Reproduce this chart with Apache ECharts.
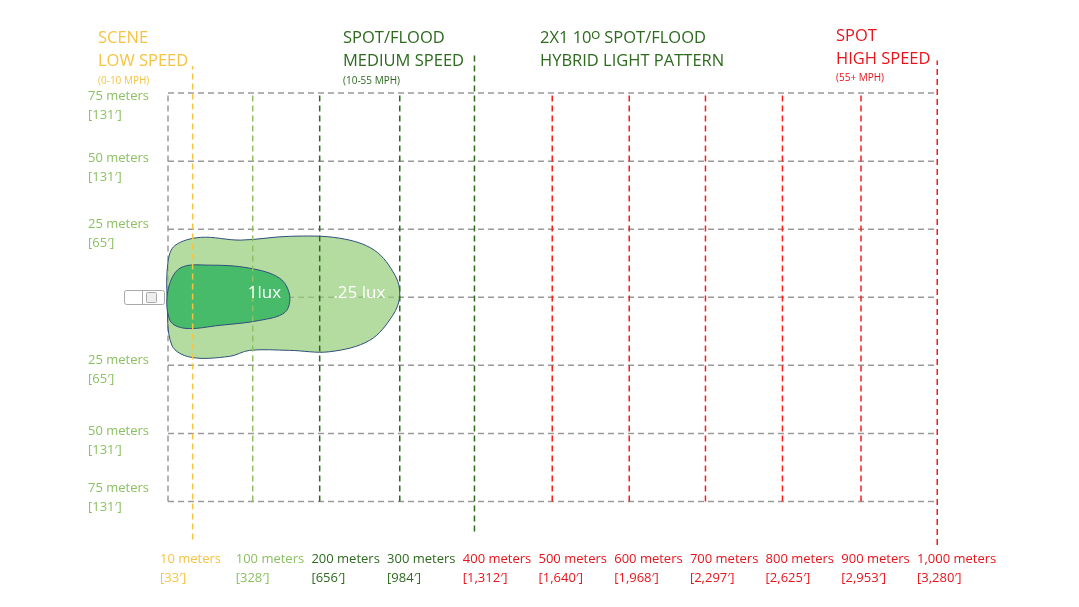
<!DOCTYPE html>
<html><head><meta charset="utf-8">
<script src="https://cdn.jsdelivr.net/npm/echarts@6/dist/echarts.min.js"></script>
<style>html,body{margin:0;padding:0;background:#fff}#c{width:1079px;height:607px}</style>
</head><body><div id="c"></div>
<script>
// distances (chart units along x, as drawn) and labels
const distPos = [32, 110, 197, 301, 398, 499, 599, 698, 798, 900, 999];
const distLabels = ['10 meters','100 meters','200 meters','300 meters','400 meters','500 meters','600 meters','700 meters','800 meters','900 meters','1,000 meters'];
const distFeet = ["[33′]","[328′]","[656′]","[984′]","[1,312′]","[1,640′]","[1,968′]","[2,297′]","[2,625′]","[2,953′]","[3,280′]"];
const distColor = ['#f6c443','#8cc063','#2d6a1e','#2d6a1e','#e8141c','#e8141c','#e8141c','#e8141c','#e8141c','#e8141c','#e8141c'];
const lineColor = ['#f6c443','#8cc063','#2d6a1e','#2d6a1e','#2d6a1e','#ff1a1a','#ff1a1a','#ff1a1a','#ff1a1a','#ff1a1a','#ff1a1a'];
// vertical extent of each line [bottom, top] in y units
const lineExt = [[-89,85],[-75,75],[-75,75],[-75,75],[-86,89],[-75,75],[-75,75],[-75,75],[-75,75],[-75,75],[-91,87]];
// lateral grid
const widthPos = [75, 50, 25, 0, -25, -50, -75];
const widthLabelPos = [73, 50, 26, -24, -50, -71];
const widthLabels = ['75 meters','50 meters','25 meters','25 meters','50 meters','75 meters'];
const widthFeet = ["[131′]","[131′]","[65′]","[65′]","[131′]","[131′]"];
// beam patterns
const quarterLux = [[9,19],[42,22],[94,21],[158,22.4],[223,21.7],[268,17.3],[295,8],[301,0.7],[292,-6.6],[262,-15.8],[210,-20],[158,-19.5],[106,-19.5],[80,-21.7],[29,-22],[5,-17.6],[-1,-1],[0,13]];
const oneLux = [[15.6,10.7],[54.5,11.8],[106,10.7],[145,7],[158,0.7],[152,-5.5],[119,-8.5],[67.5,-10.3],[22,-11.4],[2.6,-8.5],[0,2.6]];

const series = [];
const gray = {color:'#9a9a9a', type:[6,4], width:1.5};
widthPos.forEach(y => series.push({type:'line', data:[[0,y],[1000,y]], symbol:'none', lineStyle:gray, silent:true, z:1}));
series.push({type:'line', data:[[0,-75],[0,75]], symbol:'none', lineStyle:gray, silent:true, z:1});
function poly(pts, fill, z){
  return {type:'custom', z:z, silent:true, data:[0],
    renderItem:(p,api)=>({type:'polygon', shape:{points:pts.map(q=>api.coord(q)), smooth:0.35},
      style:{fill:fill, stroke:'#2e4f7a', lineWidth:1}})};
}
series.push(poly(quarterLux,'rgba(150,205,120,0.7)',2));
series.push(poly(oneLux,'#47bb6a',3));
distPos.forEach((x,i)=>series.push({type:'line', data:[[x,lineExt[i][0]],[x,lineExt[i][1]]], symbol:'none', z:4, silent:true,
  lineStyle:{color:lineColor[i], type:[6,4], width:1.5}}));

const chart = echarts.init(document.getElementById('c'));
chart.setOption({
  animation:false,
  grid:{left:168, right:141, top:55, bottom:62},
  xAxis:{type:'value', min:0, max:1000, show:false},
  yAxis:{type:'value', min:-91, max:89, show:false},
  series
});
const F = '"Open Sans", sans-serif';
const g = [];
distPos.forEach((x,i)=>{
  g.push({type:'text', z:100, left:160+i*75.7, top:550, style:{text:distLabels[i]+'\n'+distFeet[i], fill:distColor[i], font:'13px '+F, lineHeight:19}});
});
widthLabelPos.forEach((y,i)=>{
  const p = chart.convertToPixel({gridIndex:0},[0,y]);
  g.push({type:'text', z:100, left:88, top:p[1]-12, style:{text:widthLabels[i]+'\n'+widthFeet[i], fill:'#8cc063', font:'13px '+F, lineHeight:19}});
});
const c0 = chart.convertToPixel({gridIndex:0},[0,0]);
const c1 = chart.convertToPixel({gridIndex:0},[105,0]);
const c2 = chart.convertToPixel({gridIndex:0},[220,0]);
g.push({type:'text', z:100, left:c1[0]-1, top:c0[1]-13, style:{text:'1lux', fill:'#fff', font:'17px '+F}});
g.push({type:'text', z:100, left:c2[0]-4, top:c0[1]-13, style:{text:'.25 lux', fill:'#fff', font:'17px '+F}});
// truck outline
g.push({type:'group', z:100, left:124, top:288, children:[
  {type:'rect', shape:{x:0,y:2,width:40,height:14,r:2}, style:{fill:'#fff', stroke:'#aaa', lineWidth:1}},
  {type:'rect', shape:{x:22,y:4,width:10,height:10,r:1}, style:{fill:'#eee', stroke:'#aaa', lineWidth:1}},
  {type:'line', shape:{x1:18,y1:2,x2:18,y2:16}, style:{stroke:'#aaa'}}
]});
function head(x,y,lines){
  lines.forEach(l=>g.push({type:'text', z:100, left:x, top:y+l[0], style:{text:l[1], fill:l[2], font:(l[3]||16.5)+'px '+F}}));
}
head(98,30,[[0,'SCENE','#f6c443'],[23,'LOW SPEED','#f6c443'],[46,'(0-10 MPH)','#f6c443',10]]);
head(343,30,[[0,'SPOT/FLOOD','#2d6a1e'],[23,'MEDIUM SPEED','#2d6a1e'],[46,'(10-55 MPH)','#2d6a1e',10]]);
head(540,30,[[0,'2X1 10ᴼ SPOT/FLOOD','#2d6a1e'],[23,'HYBRID LIGHT PATTERN','#2d6a1e']]);
head(836,28,[[0,'SPOT','#e8141c'],[23,'HIGH SPEED','#e8141c'],[45,'(55+ MPH)','#e8141c',10]]);
chart.setOption({graphic:g});
</script></body></html>
